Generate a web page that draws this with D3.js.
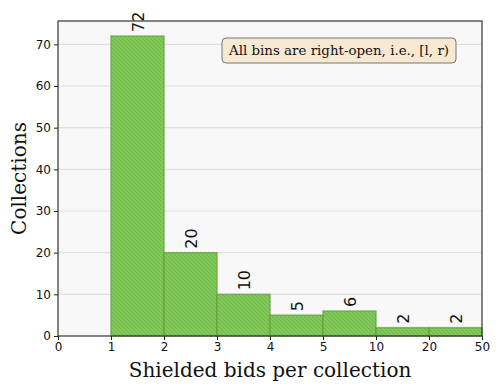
<!DOCTYPE html>
<html>
<head>
<meta charset="utf-8">
<script src="https://cdn.jsdelivr.net/npm/d3@7"></script>
<style>
  body { margin: 0; background: #fff; }
  svg text { font-family: "DejaVu Sans", sans-serif; }
</style>
</head>
<body>
<div id="chart"></div>
<script>
// Shielded-bid histogram, bins on an evenly spaced categorical axis
const binEdges = ['0', '1', '2', '3', '4', '5', '10', '20', '50'];
const binStarts = ['1', '2', '3', '4', '5', '10', '20'];
const binEnds = ['2', '3', '4', '5', '10', '20', '50'];
const counts = [72, 20, 10, 5, 6, 2, 2];
const yTicks = [0, 10, 20, 30, 40, 50, 60, 70];

const width = 498, height = 391;
const margin = { top: 21, right: 16, bottom: 55, left: 58 };
const serif = '"DejaVu Serif", serif';

const svg = d3.select('#chart').append('svg')
  .attr('width', width).attr('height', height);

const defs = svg.append('defs');
const pat = defs.append('pattern')
  .attr('id', 'hatch')
  .attr('patternUnits', 'userSpaceOnUse')
  .attr('width', 4).attr('height', 4);
pat.append('rect').attr('width', 4).attr('height', 4).attr('fill', '#84cb5e');
pat.append('path')
  .attr('d', 'M-1,-1 L5,5 M-1,3 L1,5 M3,-1 L5,1')
  .attr('stroke', '#70b949').attr('stroke-width', 1.1);

const x = d3.scalePoint().domain(binEdges).range([margin.left, width - margin.right]);
const y = d3.scaleLinear().domain([0, 75.6]).range([height - margin.bottom, margin.top]);

// plot background
svg.append('rect')
  .attr('x', margin.left).attr('y', margin.top)
  .attr('width', width - margin.left - margin.right)
  .attr('height', height - margin.top - margin.bottom)
  .attr('fill', '#f8f8f8');

// grid
svg.append('g').selectAll('line').data(yTicks.slice(1)).join('line')
  .attr('x1', margin.left).attr('x2', width - margin.right)
  .attr('y1', d => y(d)).attr('y2', d => y(d))
  .attr('stroke', '#e0e0e0').attr('stroke-width', 1.2);

const bins = counts.map((c, i) => ({ l: binStarts[i], r: binEnds[i], c }));

svg.append('g').selectAll('rect').data(bins).join('rect')
  .attr('x', d => x(d.l))
  .attr('y', d => y(d.c))
  .attr('width', d => x(d.r) - x(d.l))
  .attr('height', d => y(0) - y(d.c))
  .attr('fill', 'url(#hatch)')
  .attr('stroke', '#5fa03a')
  .attr('stroke-opacity', 0.7)
  .attr('stroke-width', 1.5);

// count labels, rotated
svg.append('g').selectAll('text').data(bins).join('text')
  .attr('transform', d => `translate(${(x(d.l) + x(d.r)) / 2 + 6},${y(d.c) - 4}) rotate(-90)`)
  .attr('text-anchor', 'start')
  .attr('font-size', 16)
  .attr('fill', '#111')
  .text(d => d.c);

// axes
const xAxis = svg.append('g')
  .attr('transform', `translate(0,${y(0)})`)
  .call(d3.axisBottom(x).tickSize(4).tickPadding(2));
const yAxis = svg.append('g')
  .attr('transform', `translate(${margin.left},0)`)
  .call(d3.axisLeft(y).tickValues(yTicks).tickSize(4).tickPadding(3));
[xAxis, yAxis].forEach(a => {
  a.select('.domain').remove();
  a.selectAll('text').attr('font-size', 12).attr('fill', '#111')
    .style('font-family', '"DejaVu Sans", sans-serif');
  a.selectAll('line').attr('stroke', '#222');
});

// frame
svg.append('rect')
  .attr('x', margin.left).attr('y', margin.top)
  .attr('width', width - margin.left - margin.right)
  .attr('height', height - margin.top - margin.bottom)
  .attr('fill', 'none').attr('stroke', '#333').attr('stroke-width', 1.2);

// note box
const note = svg.append('g').attr('transform', 'translate(222,38)');
note.append('rect')
  .attr('width', 234).attr('height', 25).attr('rx', 4)
  .attr('fill', '#f7e8d2').attr('stroke', '#777').attr('stroke-width', 1);
note.append('text')
  .attr('x', 117).attr('y', 17).attr('text-anchor', 'middle')
  .attr('font-size', 13.4)
  .style('font-family', serif)
  .attr('fill', '#111')
  .text('All bins are right-open, i.e., [l, r)');

// axis titles
svg.append('text')
  .attr('x', (margin.left + width - margin.right) / 2).attr('y', 377)
  .attr('text-anchor', 'middle')
  .attr('font-size', 20)
  .style('font-family', serif)
  .attr('fill', '#111')
  .text('Shielded bids per collection');
svg.append('text')
  .attr('transform', `translate(26,${(margin.top + height - margin.bottom) / 2}) rotate(-90)`)
  .attr('text-anchor', 'middle')
  .attr('font-size', 20)
  .style('font-family', serif)
  .attr('fill', '#111')
  .text('Collections');
</script>
</body>
</html>
